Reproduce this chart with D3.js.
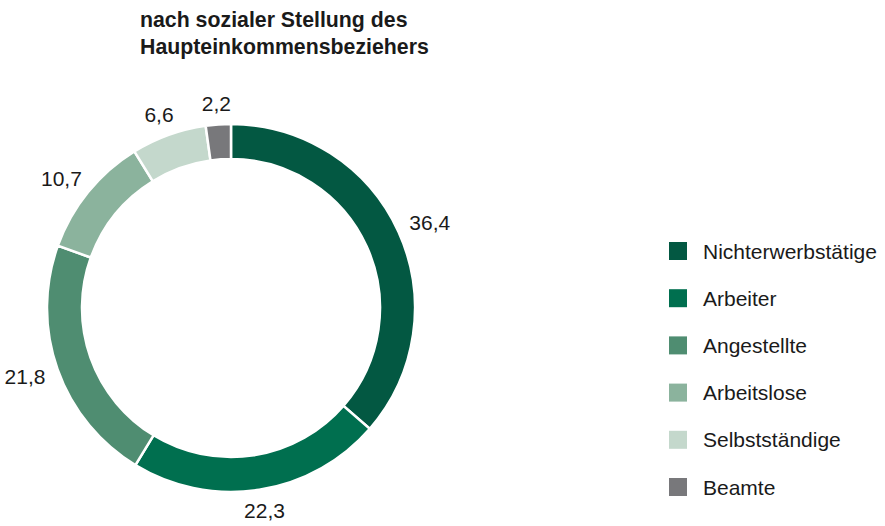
<!DOCTYPE html>
<html>
<head>
<meta charset="utf-8">
<script src="https://cdn.jsdelivr.net/npm/d3@7"></script>
<style>
  body { margin: 0; background: #fff; }
  svg { display: block; font-family: "Liberation Sans", Arial, sans-serif; }
</style>
</head>
<body>
<svg id="chart" width="885" height="526"></svg>
<script>
const titleLines = ["nach sozialer Stellung des", "Haupteinkommensbeziehers"];
const categories = ["Nichterwerbstätige", "Arbeiter", "Angestellte", "Arbeitslose", "Selbstständige", "Beamte"];
const values = [36.4, 22.3, 21.8, 10.7, 6.6, 2.2];
const colors = ["#035842", "#006f4f", "#4f8d71", "#8bb39d", "#c4d8cc", "#78787b"];

const data = categories.map((c, i) => ({ cat: c, value: values[i], color: colors[i] }));

const svg = d3.select("#chart");
const cx = 231, cy = 308;
const outerR = 184, innerR = 149, labelR = 198;
const capH = 14.5;

// title
svg.append("text")
  .attr("x", 140)
  .attr("y", 27)
  .attr("font-size", "21.3px")
  .attr("font-weight", "bold")
  .attr("fill", "#1a1a1a")
  .selectAll("tspan")
  .data(titleLines)
  .enter()
  .append("tspan")
  .attr("x", 140)
  .attr("dy", (d, i) => (i === 0 ? 0 : 26.5))
  .text((d) => d);

const pie = d3.pie().sort(null).value((d) => d.value);
const arcs = pie(data);
const arc = d3.arc().innerRadius(innerR).outerRadius(outerR);

const g = svg.append("g").attr("transform", `translate(${cx},${cy})`);

g.selectAll("path")
  .data(arcs)
  .enter()
  .append("path")
  .attr("d", arc)
  .attr("fill", (d) => d.data.color)
  .attr("stroke", "#fff")
  .attr("stroke-width", 2.5);

// value labels outside the ring
const fmt = (v) => v.toFixed(1).replace(".", ",");
g.selectAll(".valueLabel")
  .data(arcs)
  .enter()
  .append("text")
  .attr("class", "valueLabel")
  .attr("text-anchor", "middle")
  .attr("font-size", "21px")
  .attr("fill", "#1a1a1a")
  .text((d) => fmt(d.data.value))
  .each(function (d) {
    const a = (d.startAngle + d.endAngle) / 2;
    const w = this.getComputedTextLength();
    const s = Math.sin(a), c = Math.cos(a);
    const x = labelR * s + (w / 2) * s;
    const y = -labelR * c - (capH / 2) * c;
    d3.select(this).attr("x", x).attr("y", y + capH / 2);
  });

// legend
const ly = d3.scalePoint().domain(categories).range([251, 487]);
const legend = svg.selectAll(".legend")
  .data(data)
  .enter()
  .append("g")
  .attr("class", "legend")
  .attr("transform", (d) => `translate(669,${ly(d.cat)})`);

legend.append("rect")
  .attr("x", 0)
  .attr("y", -9)
  .attr("width", 18)
  .attr("height", 18)
  .attr("fill", (d) => d.color);

legend.append("text")
  .attr("x", 34)
  .attr("y", 7.5)
  .attr("font-size", "21px")
  .attr("fill", "#1a1a1a")
  .text((d) => d.cat);
</script>
</body>
</html>
